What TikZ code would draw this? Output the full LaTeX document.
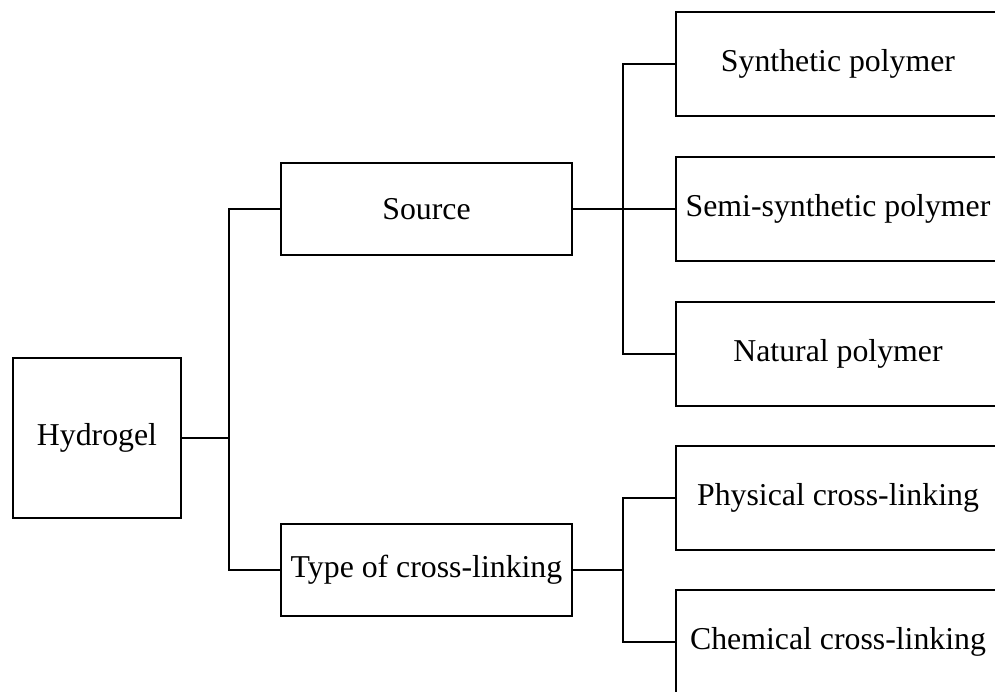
\documentclass[tikz,border=0pt]{standalone}
\usepackage{fontspec}
\setmainfont{Liberation Serif}
\begin{document}
\begin{tikzpicture}[x=1pt,y=-1pt,
  box/.style={draw, line width=2pt, inner sep=0pt, align=center,
    font=\fontsize{31.8}{38}\selectfont},
  conn/.style={line width=2pt}]
\useasboundingbox (0,0) rectangle (995,691);
\clip (0,0) rectangle (995,691);
\node[box, minimum width=168pt, minimum height=160pt] (hyd) at (97,438) {Hydrogel};
\node[box, minimum width=291pt, minimum height=92pt] (src) at (426.5,209) {Source};
\node[box, minimum width=291pt, minimum height=92pt] (typ) at (426.5,570) {Type of cross-linking};
\node[box, minimum width=324pt, minimum height=104pt] (syn) at (838,64) {Synthetic polymer};
\node[box, minimum width=324pt, minimum height=104pt] (sem) at (838,209) {Semi-synthetic polymer};
\node[box, minimum width=324pt, minimum height=104pt] (nat) at (838,354) {Natural polymer};
\node[box, minimum width=324pt, minimum height=104pt] (phy) at (838,497.5) {Physical cross-linking};
\node[box, minimum width=324pt, minimum height=104pt] (che) at (838,642) {Chemical cross-linking};
\coordinate (j1) at (229,438);
\coordinate (j2) at (623,209);
\coordinate (j3) at (623,570);
\draw[conn] (hyd.east) -- (j1);
\draw[conn] (j1) |- (src.west);
\draw[conn] (j1) |- (typ.west);
\draw[conn] (src.east) -- (j2);
\draw[conn] (j2) |- (syn.west);
\draw[conn] (j2) -- (sem.west);
\draw[conn] (j2) |- (nat.west);
\draw[conn] (typ.east) -- (j3);
\draw[conn] (j3) |- (phy.west);
\draw[conn] (j3) |- (che.west);
\end{tikzpicture}
\end{document}
